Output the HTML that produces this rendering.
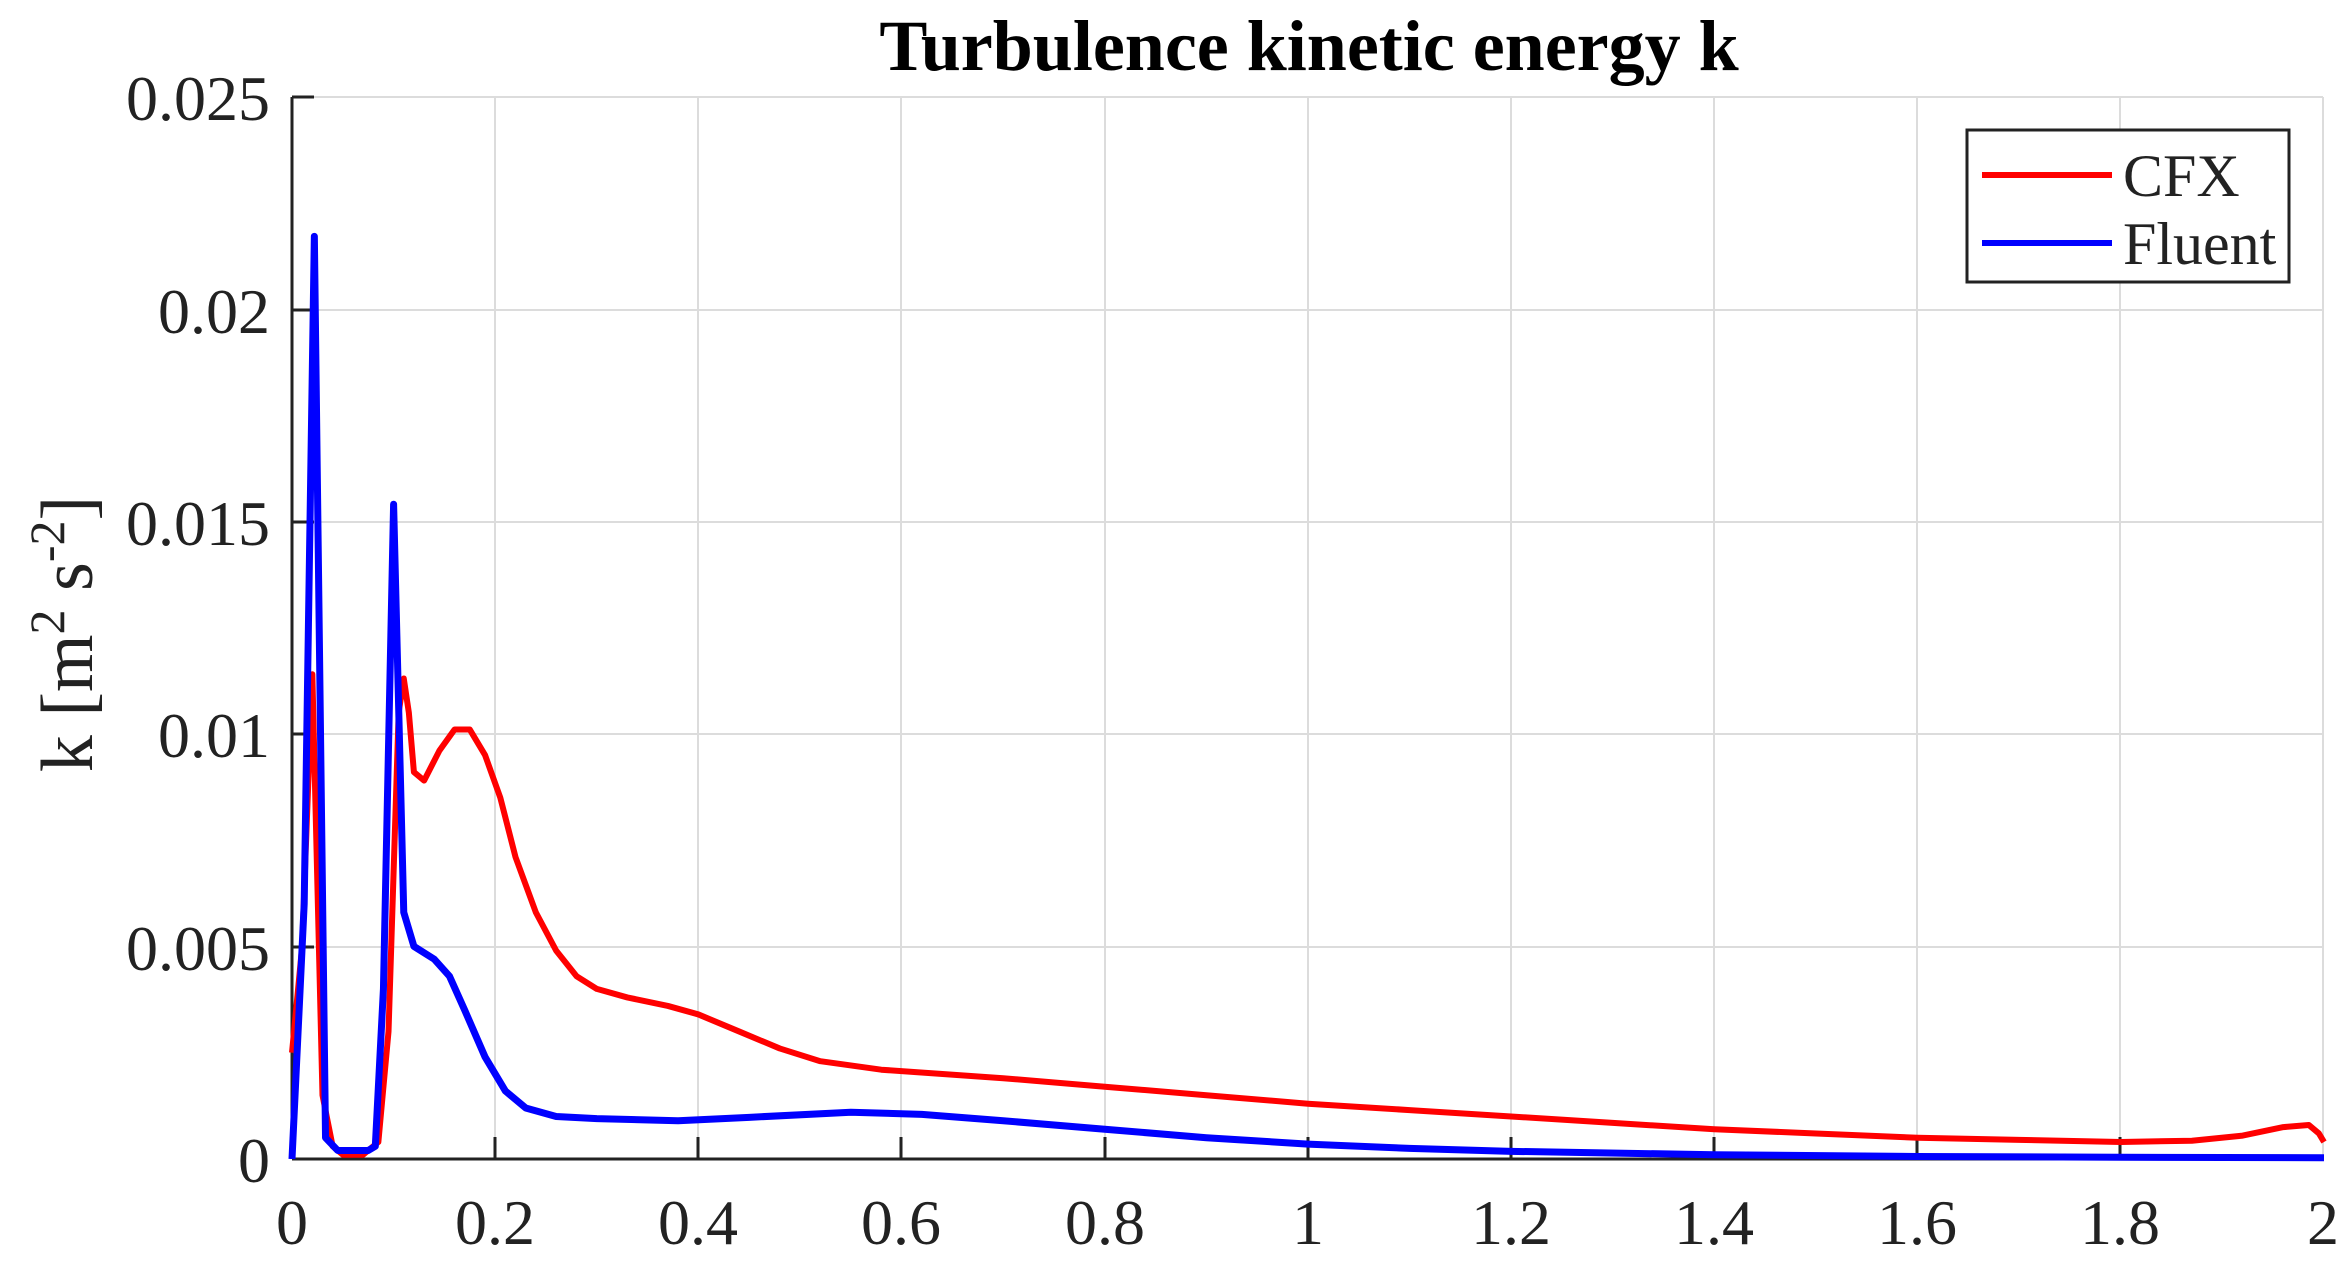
<!DOCTYPE html>
<html><head><style>body{margin:0;background:#fff}svg{display:block}</style></head><body>
<svg width="2346" height="1266" xmlns="http://www.w3.org/2000/svg" font-family="Liberation Serif, serif">
<rect width="2346" height="1266" fill="#fff"/>
<g stroke="#dcdcdc" stroke-width="2">
<line x1="495" y1="97" x2="495" y2="1159"/><line x1="698" y1="97" x2="698" y2="1159"/><line x1="901" y1="97" x2="901" y2="1159"/><line x1="1105" y1="97" x2="1105" y2="1159"/><line x1="1308" y1="97" x2="1308" y2="1159"/><line x1="1511" y1="97" x2="1511" y2="1159"/><line x1="1714" y1="97" x2="1714" y2="1159"/><line x1="1917" y1="97" x2="1917" y2="1159"/><line x1="2120" y1="97" x2="2120" y2="1159"/><line x1="2323" y1="97" x2="2323" y2="1159"/>
<line x1="292" y1="97" x2="2323" y2="97"/><line x1="292" y1="310" x2="2323" y2="310"/><line x1="292" y1="522" x2="2323" y2="522"/><line x1="292" y1="734" x2="2323" y2="734"/><line x1="292" y1="947" x2="2323" y2="947"/>
</g>
<g stroke="#222" stroke-width="3">
<line x1="292" y1="97" x2="292" y2="1159"/><line x1="292" y1="1159" x2="2323" y2="1159"/>
<line x1="292" y1="97" x2="314" y2="97"/><line x1="292" y1="310" x2="314" y2="310"/><line x1="292" y1="522" x2="314" y2="522"/><line x1="292" y1="734" x2="314" y2="734"/><line x1="292" y1="947" x2="314" y2="947"/>
<line x1="495" y1="1159" x2="495" y2="1137"/><line x1="698" y1="1159" x2="698" y2="1137"/><line x1="901" y1="1159" x2="901" y2="1137"/><line x1="1105" y1="1159" x2="1105" y2="1137"/><line x1="1308" y1="1159" x2="1308" y2="1137"/><line x1="1511" y1="1159" x2="1511" y2="1137"/><line x1="1714" y1="1159" x2="1714" y2="1137"/><line x1="1917" y1="1159" x2="1917" y2="1137"/><line x1="2120" y1="1159" x2="2120" y2="1137"/>
</g>
<g transform="translate(292,1159) scale(1016,-42520)" fill="none" stroke-linejoin="round">
<polyline vector-effect="non-scaling-stroke" stroke="#ff0000" stroke-width="6" points="0,0.0025 0.01,0.005 0.02,0.0114 0.03,0.0015 0.04,0.0003 0.05,0.0001 0.07,0.0001 0.085,0.0004 0.095,0.003 0.105,0.0105 0.11,0.0113 0.115,0.0105 0.12,0.0091 0.13,0.0089 0.145,0.0096 0.16,0.0101 0.175,0.0101 0.19,0.0095 0.205,0.0085 0.22,0.0071 0.24,0.0058 0.26,0.0049 0.28,0.0043 0.3,0.0040 0.33,0.0038 0.37,0.0036 0.4,0.0034 0.44,0.0030 0.48,0.0026 0.52,0.0023 0.58,0.0021 0.7,0.0019 0.8,0.0017 0.9,0.0015 1.0,0.0013 1.1,0.00115 1.2,0.0010 1.3,0.00085 1.4,0.0007 1.5,0.0006 1.6,0.0005 1.7,0.00045 1.8,0.0004 1.87,0.00043 1.92,0.00055 1.96,0.00075 1.985,0.0008 1.995,0.0006 2,0.0004"/>
<polyline vector-effect="non-scaling-stroke" stroke="#0000ff" stroke-width="7" points="0,0 0.012,0.006 0.022,0.0217 0.033,0.0005 0.045,0.0002 0.075,0.0002 0.082,0.0003 0.09,0.004 0.1,0.0154 0.11,0.0058 0.12,0.0050 0.14,0.0047 0.155,0.0043 0.17,0.0035 0.19,0.0024 0.21,0.0016 0.23,0.0012 0.26,0.0010 0.3,0.00095 0.38,0.0009 0.45,0.00098 0.55,0.0011 0.62,0.00105 0.7,0.0009 0.8,0.0007 0.9,0.0005 1.0,0.00035 1.1,0.00025 1.2,0.00018 1.4,0.0001 1.6,0.00006 1.8,0.00004 2,0.00003"/>
</g>
<text x="1309" y="70" font-size="72" font-weight="bold" text-anchor="middle">Turbulence kinetic energy k</text>
<g font-size="64" fill="#222" text-anchor="end">
<text x="270" y="120">0.025</text><text x="270" y="333">0.02</text><text x="270" y="545">0.015</text><text x="270" y="757">0.01</text><text x="270" y="970">0.005</text><text x="270" y="1182">0</text>
</g>
<g font-size="64" fill="#222" text-anchor="middle">
<text x="292" y="1244">0</text><text x="495" y="1244">0.2</text><text x="698" y="1244">0.4</text><text x="901" y="1244">0.6</text><text x="1105" y="1244">0.8</text><text x="1308" y="1244">1</text><text x="1511" y="1244">1.2</text><text x="1714" y="1244">1.4</text><text x="1917" y="1244">1.6</text><text x="2120" y="1244">1.8</text><text x="2323" y="1244">2</text>
</g>
<text transform="translate(92,634) rotate(-90)" font-size="74" fill="#222" text-anchor="middle">k [m<tspan dy="-28" font-size="50">2</tspan><tspan dy="28"> s</tspan><tspan dy="-28" font-size="50">-2</tspan><tspan dy="28">]</tspan></text>
<rect x="1967" y="130" width="322" height="152" fill="#fff" stroke="#222" stroke-width="3"/>
<line x1="1982" y1="175" x2="2112" y2="175" stroke="#ff0000" stroke-width="6"/>
<line x1="1982" y1="243" x2="2112" y2="243" stroke="#0000ff" stroke-width="6"/>
<text x="2123" y="196" font-size="60" fill="#222">CFX</text>
<text x="2123" y="264" font-size="60" fill="#222">Fluent</text>
</svg>
</body></html>
